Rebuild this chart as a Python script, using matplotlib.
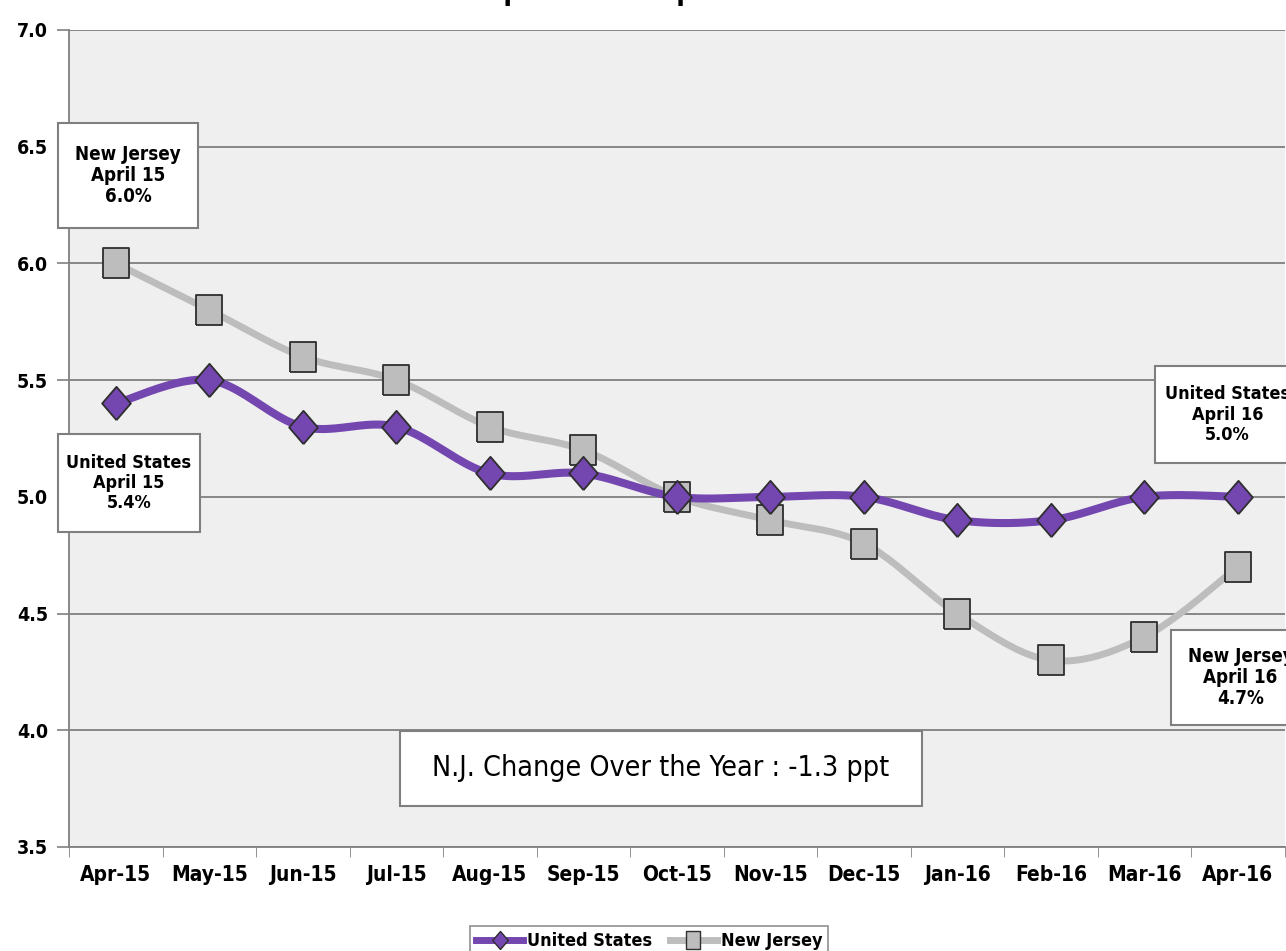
import numpy as np
import matplotlib
matplotlib.use("Agg")
from matplotlib import pyplot as plt
from matplotlib.patches import Rectangle
from matplotlib.lines import Line2D

months = ["Apr-15", "May-15", "Jun-15", "Jul-15", "Aug-15", "Sep-15", "Oct-15",
          "Nov-15", "Dec-15", "Jan-16", "Feb-16", "Mar-16", "Apr-16"]
us_rate = [5.4, 5.5, 5.3, 5.3, 5.1, 5.1, 5.0, 5.0, 5.0, 4.9, 4.9, 5.0, 5.0]
nj_rate = [6.0, 5.8, 5.6, 5.5, 5.3, 5.2, 5.0, 4.9, 4.8, 4.5, 4.3, 4.4, 4.7]
y_ticks = [3.5, 4.0, 4.5, 5.0, 5.5, 6.0, 6.5, 7.0]

plt.rcParams['font.family'] = ['DejaVu Sans']
plt.rcParams['font.stretch'] = 'condensed'

US_COLOR = '#7446b0'
NJ_COLOR = '#bdbdbd'
EDGE = '#2e2e2e'


def smooth(x, y, n=24):
    # excel-style smoothed line (catmull-rom as cubic bezier)
    p = np.column_stack([x, y]).astype(float)
    ext = np.vstack([p[0], p, p[-1]])
    t = np.linspace(0, 1, n)[:, None]
    out = []
    for i in range(len(p) - 1):
        p0, p1, p2, p3 = ext[i], ext[i + 1], ext[i + 2], ext[i + 3]
        c1 = p1 + (p2 - p0) / 6
        c2 = p2 - (p3 - p1) / 6
        seg = ((1 - t) ** 3) * p1 + 3 * ((1 - t) ** 2) * t * c1 + 3 * (1 - t) * t ** 2 * c2 + t ** 3 * p2
        out.append(seg if i == 0 else seg[1:])
    out = np.vstack(out)
    return out[:, 0], out[:, 1]


fig = plt.figure(figsize=(12.86, 9.51), dpi=100)
ax = fig.add_axes([0.0537, 0.1094, 0.9453, 0.8591])
ax.set_facecolor('#efefef')

x = np.arange(len(months))
for vals, col, lw, z in [(nj_rate, NJ_COLOR, 5, 3), (us_rate, US_COLOR, 5.8, 4)]:
    sx, sy = smooth(x, vals)
    ax.plot(sx, sy, color=col, lw=lw, zorder=z, solid_capstyle='round')

rect = [(-0.41, -0.5), (0.41, -0.5), (0.41, 0.5), (-0.41, 0.5), (-0.41, -0.5)]
diamond = [(0, -0.5), (0.43, 0), (0, 0.5), (-0.43, 0), (0, -0.5)]
ax.plot(x, nj_rate, ls='none', marker=rect, ms=22, mfc=NJ_COLOR, mec=EDGE, mew=1.3, zorder=5)
ax.plot(x, us_rate, ls='none', marker=diamond, ms=24, mfc=US_COLOR, mec=EDGE, mew=1.3, zorder=6)

ax.set_xlim(-0.5, len(months) - 0.5)
ax.set_ylim(3.5, 7.0)
ax.set_yticks(y_ticks)
ax.set_yticklabels([f"{v:.1f}" for v in y_ticks], fontsize=14, fontweight='bold')
ax.set_xticks(x)
ax.set_xticklabels(months, fontsize=15, fontweight='bold')
ax.set_xticks(np.arange(len(months) + 1) - 0.5, minor=True)
ax.tick_params(axis='x', which='major', length=0, pad=13)
ax.tick_params(axis='x', which='minor', length=7, color='#808080', direction='out')
ax.tick_params(axis='y', length=9, color='#808080', width=1.2, pad=6)
ax.grid(axis='y', color='#7f7f7f', lw=1.3, zorder=1)
ax.set_axisbelow(True)
for side in ['top', 'right']:
    ax.spines[side].set_visible(False)
for side in ['left', 'bottom']:
    ax.spines[side].set_color('#808080')
    ax.spines[side].set_linewidth(1.3)

# title is cut by the top edge in the source image
fig.text(0.5, 1.0, "April 2015 - April 2016", ha='center', va='baseline',
         fontsize=20, fontweight='bold')

W, H = 1286, 951


def box(x0, y0, x1, y1, text, size, weight='bold', ls=1.15):
    fig.add_artist(Rectangle((x0 / W, 1 - y1 / H), (x1 - x0) / W, (y1 - y0) / H,
                             transform=fig.transFigure, facecolor='white',
                             edgecolor='#7f7f7f', lw=1.5, zorder=10))
    fig.text((x0 + x1) / 2 / W, 1 - (y0 + y1) / 2 / H, text, ha='center', va='center',
             fontsize=size, fontweight=weight, linespacing=ls, zorder=11)


box(58, 123, 198, 228, "New Jersey\nApril 15\n6.0%", 13.5)
box(58, 434, 200, 532, "United States\nApril 15\n5.4%", 13)
box(1155, 366, 1300, 463, "United States\nApril 16\n5.0%", 13)
box(1171, 630, 1310, 725, "New Jersey\nApril 16\n4.7%", 13.5)
box(400, 731, 922, 806, "N.J. Change Over the Year : -1.3 ppt", 20.5, weight='normal')

handles = [
    Line2D([], [], color=US_COLOR, lw=5, marker=diamond, ms=13, mfc=US_COLOR, mec=EDGE),
    Line2D([], [], color=NJ_COLOR, lw=5, marker=rect, ms=13, mfc=NJ_COLOR, mec=EDGE),
]
leg = fig.legend(handles, ["United States", "New Jersey"], loc='upper center',
                 bbox_to_anchor=(0.5048, 1 - 917 / H), ncol=2, frameon=True,
                 fancybox=False, edgecolor='#7f7f7f', handlelength=2.6,
                 columnspacing=1.0, handletextpad=0.2, borderpad=0.35,
                 prop={'size': 13, 'weight': 'bold', 'stretch': 'condensed'})
leg.get_frame().set_linewidth(1.3)

fig.savefig("out.png", dpi=100)
